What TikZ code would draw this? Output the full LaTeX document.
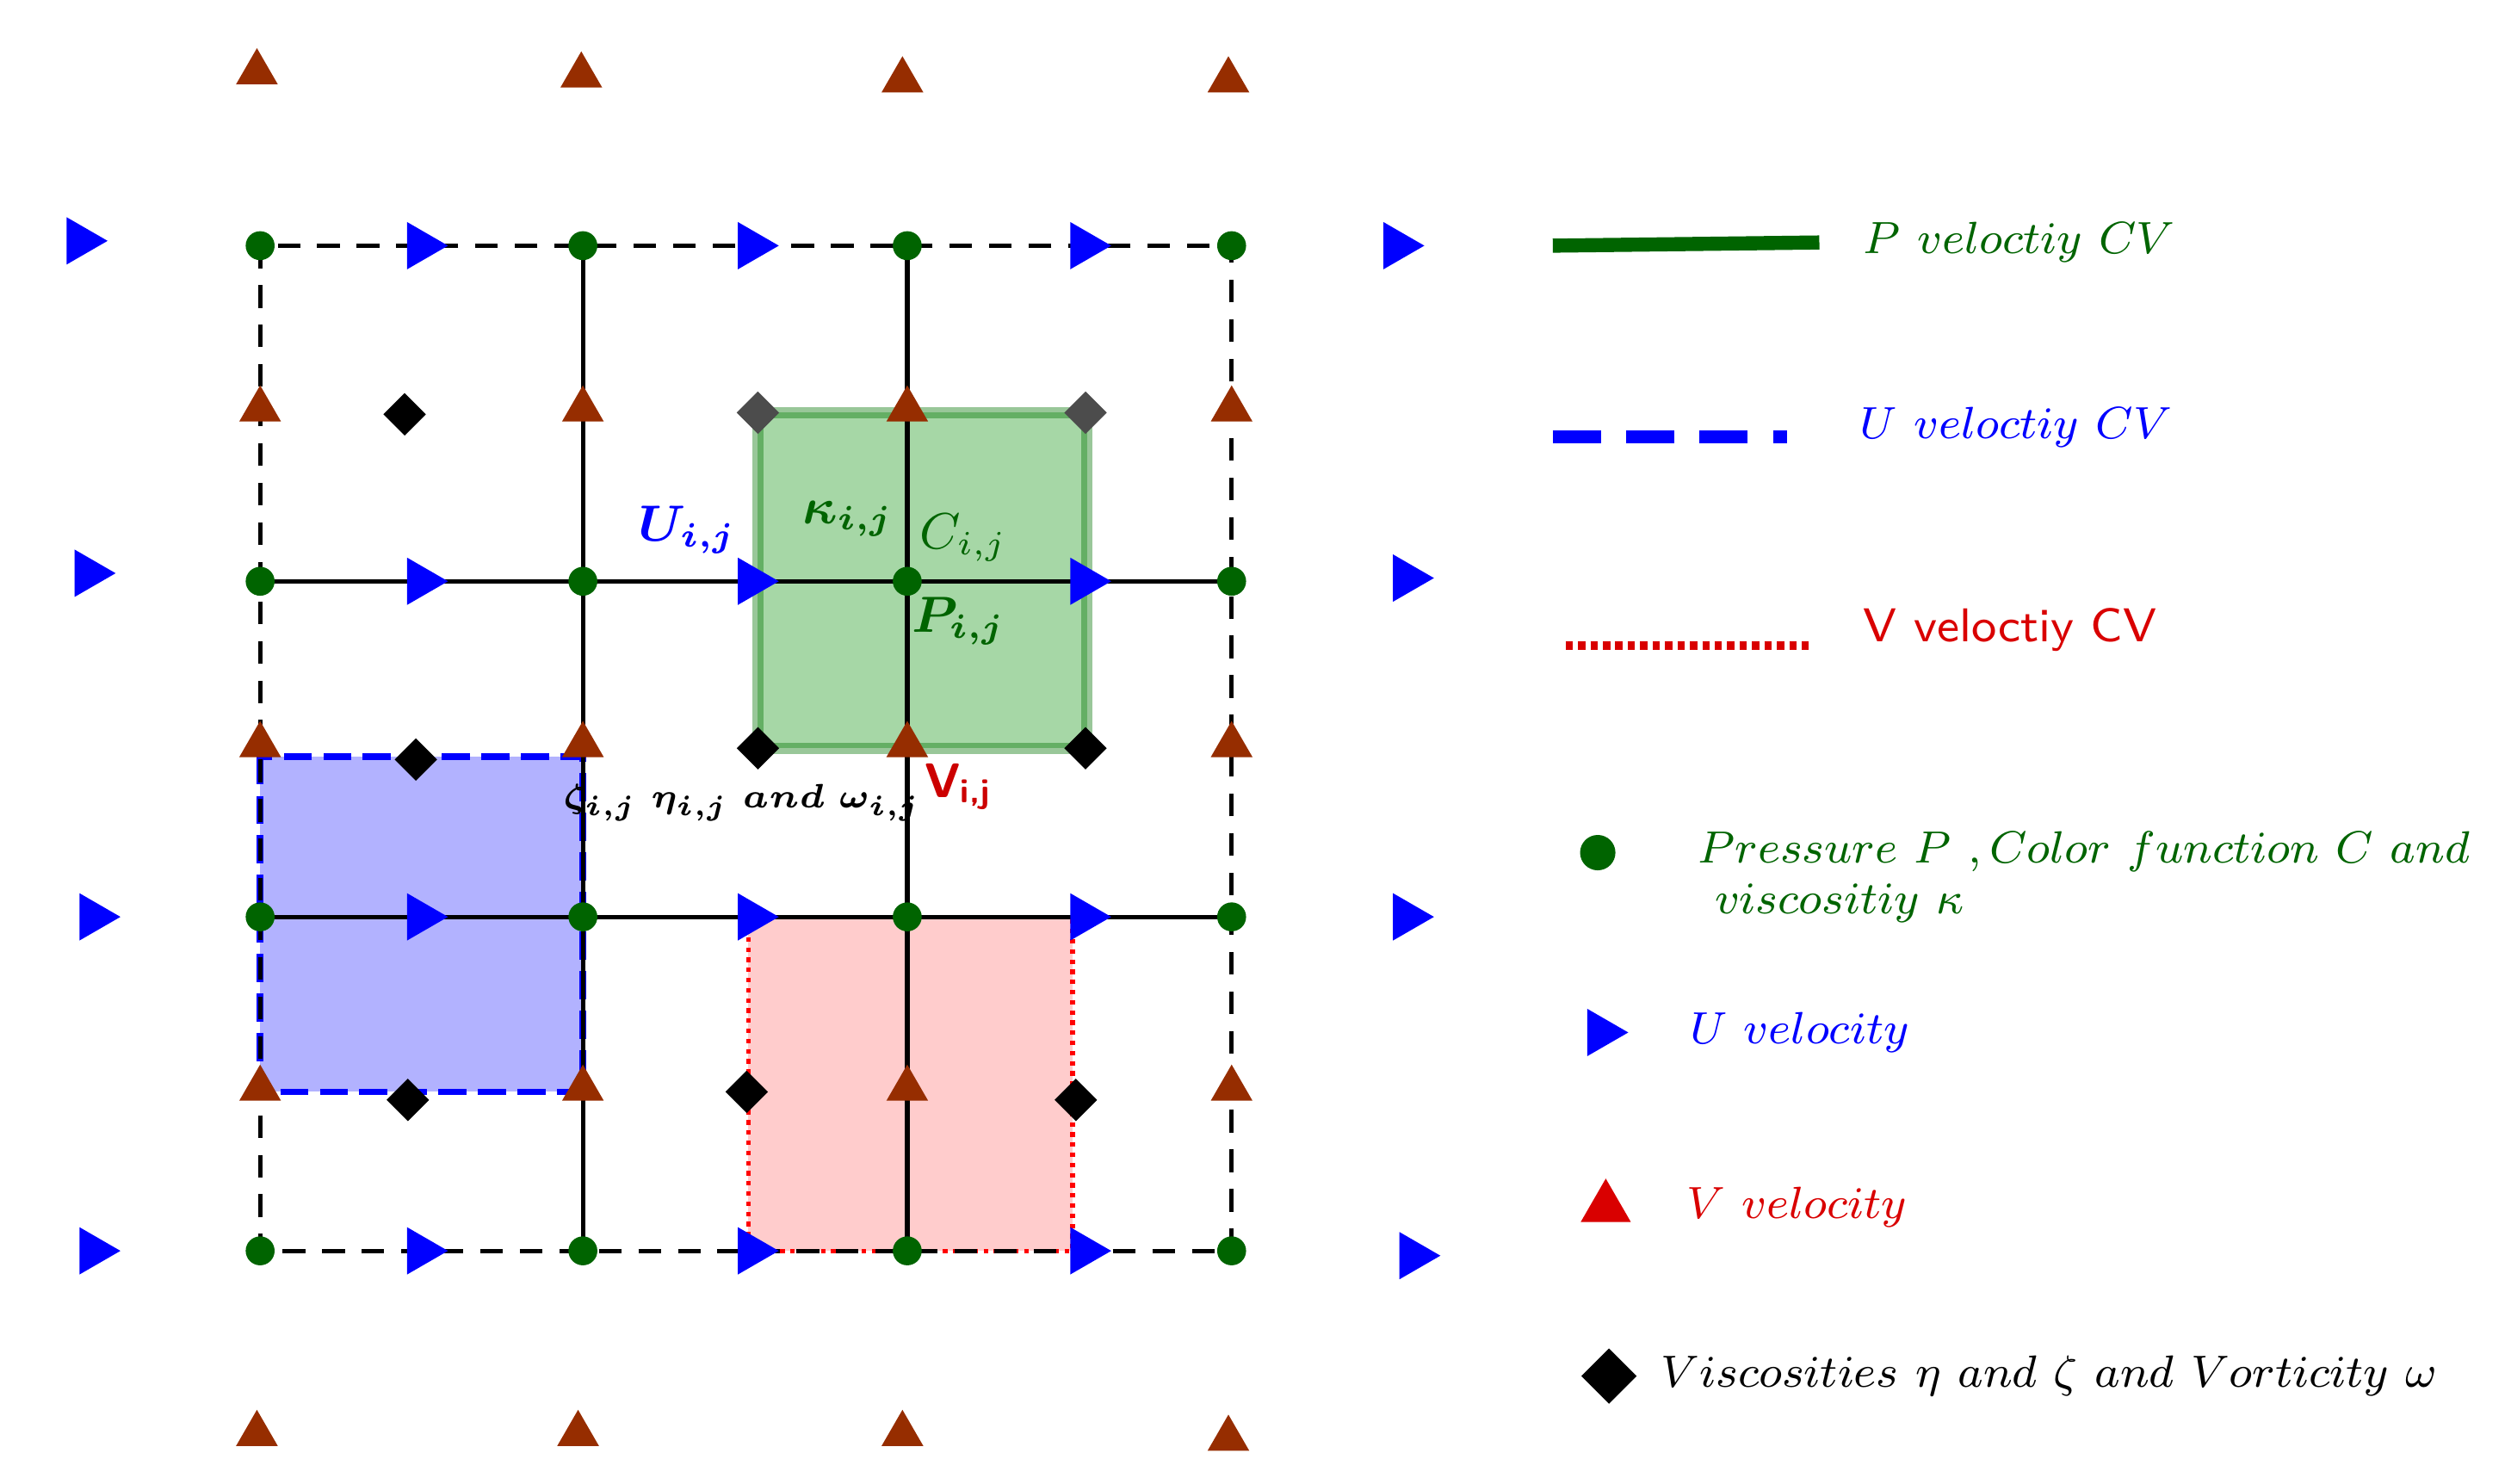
\documentclass[tikz,border=0pt]{standalone}
\usepackage{amsmath,amssymb,bm}
\usetikzlibrary{shapes.geometric}
\definecolor{dgreen}{RGB}{0,100,0}
\definecolor{brown1}{RGB}{150,45,0}
\begin{document}
\begin{tikzpicture}[x=0.01cm,y=-0.01cm,
 dot/.style={circle,fill=dgreen,inner sep=0,minimum size=0.18cm},
 ut/.style={regular polygon,regular polygon sides=3,shape border rotate=-90,fill=blue,inner sep=0,minimum size=0.34cm},
 vt/.style={regular polygon,regular polygon sides=3,fill=brown1,inner sep=0,minimum size=0.3cm},
 dm/.style={diamond,fill=black,inner sep=0,minimum size=0.27cm},
 lab/.style={font=\fontsize{8.4}{10}\selectfont,anchor=west},
 gl/.style={font=\fontsize{8.6}{10}\selectfont}]
\useasboundingbox (0,0) rectangle (1560,924);
% control volumes
\fill[green!55!black,opacity=0.35] (472,257) rectangle (677,466);
\draw[green!45!black,opacity=0.4,line width=2pt] (472,257) rectangle (677,466);
\fill[blue!30] (162,471) rectangle (363,680);
\draw[blue,line width=1.2pt,dash pattern=on 5pt off 2pt] (162,471) rectangle (363,680);
\fill[red!20] (466,571) rectangle (668,779);
\draw[red,densely dotted,line width=0.8pt] (466,571) rectangle (668,779);
% grid
\draw[line width=0.8pt,dash pattern=on 4pt off 3pt] (162,153) rectangle (767,779);
\draw[line width=0.8pt] (363,153)--(363,779) (565,153)--(565,779) (162,362)--(767,362) (162,571)--(767,571);
\foreach \x in {162,363,565,767}\foreach \y in {153,362,571,779}\node[dot] at (\x,\y){};
\foreach \y in {153,362,571,779}{\foreach \x in {262,468,675}\node[ut] at (\x,\y){};}
\node[ut] at (50,150){};\node[ut] at (55,357){};\node[ut] at (58,571){};\node[ut] at (58,779){};
\node[ut] at (870,153){};\node[ut] at (876,360){};\node[ut] at (876,571){};\node[ut] at (880,782){};
\foreach \x in {162,363,565,767}{\foreach \y in {255,464,678}\node[vt] at (\x,\y){};}
\node[vt] at (160,45){};\node[vt] at (362,47){};\node[vt] at (562,50){};\node[vt] at (765,50){};
\node[vt] at (160,893){};\node[vt] at (360,893){};\node[vt] at (562,893){};\node[vt] at (765,896){};
\node[dm] at (252,258){};\node[dm,fill=black!70] at (472,257){};\node[dm,fill=black!70] at (676,257){};
\node[dm] at (259,473){};\node[dm] at (472,466){};\node[dm] at (676,466){};
\node[dm] at (254,685){};\node[dm] at (465,680){};\node[dm] at (670,685){};
% labels
\node[blue,gl] at (428,330){$\bm{U_{i,j}}$};
\node[dgreen,gl] at (528,323){$\bm{\kappa_{i,j}}$};
\node[dgreen,gl] at (600,335){$C_{i,j}$};
\node[dgreen,gl] at (597,387){$\bm{P_{i,j}}$};
\node[red!80!black,font=\fontsize{8.6}{10}\selectfont\sffamily\bfseries] at (597,490){V\textsubscript{i,j}};
\node[font=\fontsize{6}{8}\selectfont] at (462,500){$\bm{\zeta_{i,j}\ \eta_{i,j}\ and\ \omega_{i,j}}$};
% legend
\draw[dgreen,line width=2.5pt] (967,153)--(1133,151);
\node[lab,dgreen] at (1148,151){$P\ veloctiy\ CV$};
\draw[blue,line width=2.3pt,dash pattern=on 8.5pt off 4.5pt] (967,272)--(1113,272);
\node[lab,blue] at (1146,266){$U\ veloctiy\ CV$};
\draw[red!85!black,line width=1.5pt,dash pattern=on 1.3pt off 0.9pt] (975,402)--(1128,402);
\node[lab,red!85!black,font=\fontsize{8.4}{10}\selectfont\sffamily] at (1148,392){V veloctiy CV};
\node[dot,minimum size=0.22cm] at (995,531){};
\node[lab,dgreen,align=left] at (1045,546){$Pressure\ P\ ,Color\ function\ C\ and$\\[-1pt]$\ viscositiy\ \kappa$};
\node[ut] at (997,643){};
\node[lab,blue] at (1040,643){$U\ velocity$};
\node[vt,fill=red!85!black,minimum size=0.36cm] at (1000,752){};
\node[lab,red!85!black] at (1038,752){$V\ velocity$};
\node[dm,minimum size=0.35cm] at (1002,857){};
\node[lab] at (1022,857){$Viscosities\ \eta\ and\ \zeta\ and\ Vorticity\ \omega$};
\end{tikzpicture}
\end{document}
